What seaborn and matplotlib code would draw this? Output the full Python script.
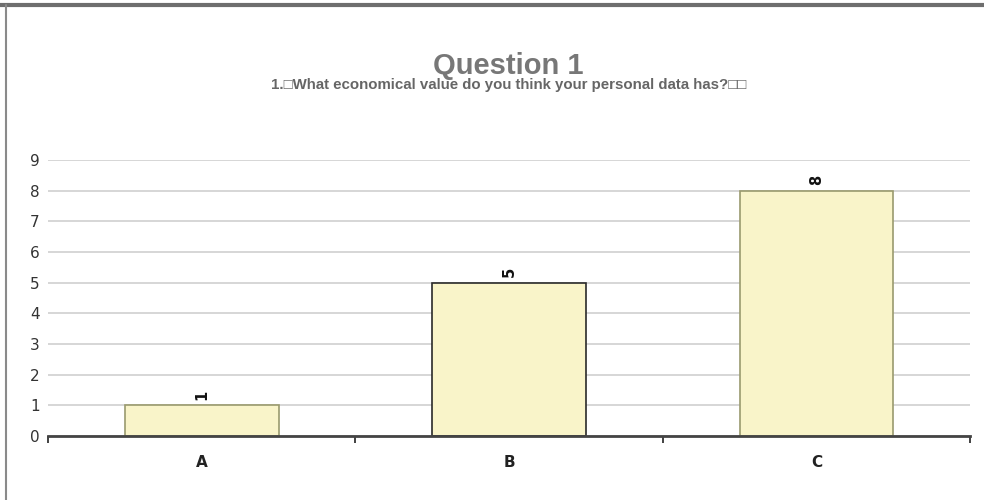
import matplotlib
matplotlib.use("Agg")
import matplotlib.pyplot as plt
from matplotlib.lines import Line2D
from matplotlib.ticker import FixedLocator
import seaborn as sns
import pandas as pd

# data
categories = ["A", "B", "C"]
counts = [1, 5, 8]
title = "Question 1"
subtitle = "1.\u25a1What economical value do you think your personal data has?\u25a1\u25a1"
y_ticks = list(range(0, 10))

df = pd.DataFrame({"answer": categories, "count": counts})

sns.set_style("white")
plt.rcParams["font.family"] = ["DejaVu Sans"]

fig = plt.figure(figsize=(9.84, 5.0), dpi=100)
ax = fig.add_axes([0.0488, 0.128, 0.9370, 0.552])

sns.barplot(data=df, x="answer", y="count", color="#F9F4C9", width=0.5,
            saturation=1, ax=ax, zorder=3)

edge_colors = ["#9A9A6E", "#2A2A2A", "#9A9A6E"]
for patch, ec in zip(ax.patches, edge_colors):
    patch.set_facecolor("#F9F4C9")
    patch.set_edgecolor(ec)
    patch.set_linewidth(1.2)

# value labels, rotated
for i, v in enumerate(counts):
    ax.text(i, v + 0.18, str(v), rotation=90, ha="center", va="bottom",
            fontsize=10.5, fontweight="bold", color="#111111")

ax.set_xlim(-0.5, 2.5)
ax.set_ylim(0, 9)
ax.set_yticks(y_ticks)
ax.set_yticklabels([str(t) for t in y_ticks], fontsize=11, color="#333333")
ax.yaxis.grid(True, color="#CFCFCF", linewidth=1.2, zorder=0)
ax.tick_params(axis="y", length=0, pad=6)

ax.set_xticks(range(len(categories)))
ax.set_xticklabels(categories, fontsize=11, fontweight="bold", color="#222222")
ax.xaxis.set_minor_locator(FixedLocator([-0.5, 0.5, 1.5, 2.5]))
ax.tick_params(axis="x", which="both", bottom=True)
ax.tick_params(axis="x", which="major", length=0, pad=14)
ax.tick_params(axis="x", which="minor", length=5, width=1.3, color="#333333",
               direction="out")

ax.set_xlabel("")
ax.set_ylabel("")
for side in ["top", "right", "left"]:
    ax.spines[side].set_visible(False)
ax.spines["bottom"].set_color("#444444")
ax.spines["bottom"].set_linewidth(2)
ax.spines["bottom"].set_zorder(4)

fig.text(0.517, 0.869, title, ha="center", va="center", fontsize=21,
         fontweight="bold", color="#777777", family="Liberation Sans")
fig.text(0.517, 0.831, subtitle, ha="center", va="center", fontsize=10.8,
         fontweight="bold", color="#666666", family="Liberation Sans")

# frame around the chart as in the reference
fig.add_artist(Line2D([0, 1], [0.991, 0.991], transform=fig.transFigure,
                      color="#6E6E6E", linewidth=3))
fig.add_artist(Line2D([0.0065, 0.0065], [0, 0.991], transform=fig.transFigure,
                      color="#8A8A8A", linewidth=1.5))

fig.savefig("out.png", dpi=100)
